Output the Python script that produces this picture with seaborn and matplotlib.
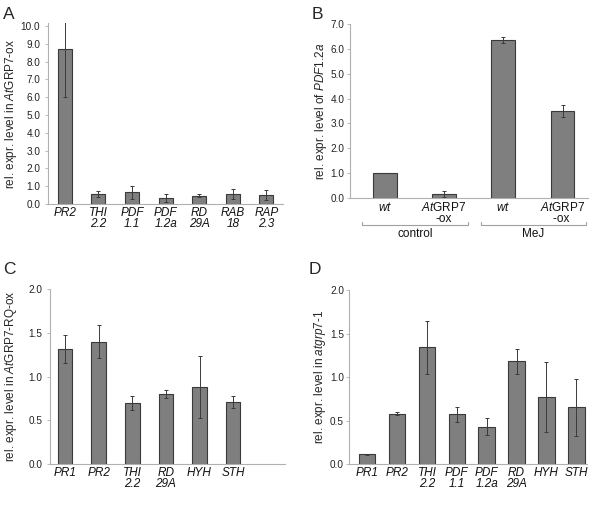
import numpy as np
import pandas as pd
import matplotlib
matplotlib.use("Agg")
import matplotlib.pyplot as plt
import matplotlib.transforms as mtransforms
import seaborn as sns

# panel A: AtGRP7-ox
a_genes = ["PR2", "THI\n2.2", "PDF\n1.1", "PDF\n1.2a", "RD\n29A", "RAB\n18", "RAP\n2.3"]
a_vals = [8.7, 0.57, 0.65, 0.33, 0.47, 0.57, 0.50]
a_err = [2.7, 0.15, 0.35, 0.22, 0.07, 0.27, 0.27]

# panel B: PDF1.2a after MeJ
b_lines = [r"$\mathit{wt}$", r"$\mathit{At}$GRP7" + "\n-ox", r"$\mathit{wt}$ ", r"$\mathit{At}$GRP7" + "\n-ox "]
b_vals = [1.0, 0.17, 6.35, 3.50]
b_err = [0.0, 0.12, 0.12, 0.26]
b_groups = ["control", "MeJ"]

# panel C: AtGRP7-RQ-ox
c_genes = ["PR1", "PR2", "THI\n2.2", "RD\n29A", "HYH", "STH"]
c_vals = [1.31, 1.40, 0.70, 0.80, 0.88, 0.71]
c_err = [0.16, 0.19, 0.08, 0.05, 0.35, 0.07]

# panel D: atgrp7-1
d_genes = ["PR1", "PR2", "THI\n2.2", "PDF\n1.1", "PDF\n1.2a", "RD\n29A", "HYH", "STH"]
d_vals = [0.11, 0.58, 1.34, 0.57, 0.43, 1.18, 0.77, 0.65]
d_err = [0.005, 0.02, 0.31, 0.09, 0.10, 0.14, 0.40, 0.33]

sns.set_style("white")
plt.rcParams["font.family"] = ["Liberation Sans", "DejaVu Sans"]
plt.rcParams["mathtext.fontset"] = "custom"
plt.rcParams["mathtext.rm"] = "Liberation Sans"
plt.rcParams["mathtext.it"] = "Liberation Sans:italic"

fig = plt.figure(figsize=(6, 5.07), dpi=100)

def panel(rect, labels, vals, errs, width, ylim, step, xlim, ylabel, label_x, tick_pad,
          letter, letter_xy, italic=True):
    ax = fig.add_axes(rect)
    df = pd.DataFrame({"gene": labels, "val": vals})
    sns.barplot(data=df, x="gene", y="val", color="#7f7f7f", saturation=1,
                width=width, edgecolor="#3a3a3a", linewidth=0.8, ax=ax)
    ax.errorbar(np.arange(len(vals)), vals, yerr=errs, fmt="none",
                ecolor="#3a3a3a", elinewidth=0.7, capsize=1.5, capthick=0.7)
    ax.set_ylim(*ylim)
    ax.set_xlim(*xlim)
    ax.set_yticks(np.arange(0, ylim[1] + 1e-6, step))
    ax.yaxis.set_major_formatter(matplotlib.ticker.FormatStrFormatter("%.1f"))
    for s in ["top", "right"]:
        ax.spines[s].set_visible(False)
    for s in ["left", "bottom"]:
        ax.spines[s].set_color("#b0b0b0")
        ax.spines[s].set_linewidth(0.8)
    ax.tick_params(axis="y", direction="out", length=2.2, width=0.6, color="#b0b0b0",
                   labelsize=7.2, labelcolor="#222222", left=True, pad=tick_pad)
    ax.tick_params(axis="x", length=0, labelsize=8.5, pad=2, labelcolor="#111111")
    for t in ax.get_xticklabels():
        t.set_linespacing(0.95)
        if italic:
            t.set_fontstyle("italic")
    ax.set_xlabel("")
    ax.set_ylabel(ylabel, fontsize=8.5)
    ax.yaxis.set_label_coords(label_x, 0.5)
    fig.text(letter_xy[0], letter_xy[1], letter, fontsize=12.5, ha="left", va="center")
    return ax

axA = panel([0.08, 0.5976, 0.392, 0.3564], a_genes, a_vals, a_err, 0.42,
            (0, 10.15), 1.0, (-0.5, 6.5),
            r"rel. expr. level in $\mathit{At}$GRP7-ox", -0.125, 3.3, "A", (0.005, 0.972))
axB = panel([0.583, 0.6095, 0.397, 0.343], b_lines, b_vals, b_err, 0.4,
            (0, 7.0), 1.0, (-0.59, 3.43),
            r"rel. expr. level of $\mathit{PDF1.2a}$", -0.088, 1.5, "B", (0.52, 0.972),
            italic=False)
axC = panel([0.0833, 0.0848, 0.392, 0.345], c_genes, c_vals, c_err, 0.43,
            (0, 2.0), 0.5, (-0.45, 6.55),
            r"rel. expr. level in $\mathit{At}$GRP7-RQ-ox", -0.13, 3.3, "C", (0.005, 0.468))
axD = panel([0.582, 0.0848, 0.396, 0.343], d_genes, d_vals, d_err, 0.55,
            (0, 2.0), 0.5, (-0.6, 7.35),
            r"rel. expr. level in $\mathit{atgrp7}$-$\mathit{1}$", -0.088, 1.5, "D", (0.515, 0.468))

# group brackets under panel B
trans = mtransforms.blended_transform_factory(axB.transData, axB.transAxes)
for i, name in enumerate(b_groups):
    x0, x1 = 2 * i - 0.38, 2 * i + 1.4
    axB.plot([x0, x0, x1, x1], [-0.14, -0.155, -0.155, -0.14], color="#a0a0a0",
             lw=0.8, transform=trans, clip_on=False)
    axB.text((x0 + x1) / 2, -0.17, name, transform=trans, ha="center", va="top",
             fontsize=8.5, color="#111111")

fig.savefig("out.png", dpi=100)
